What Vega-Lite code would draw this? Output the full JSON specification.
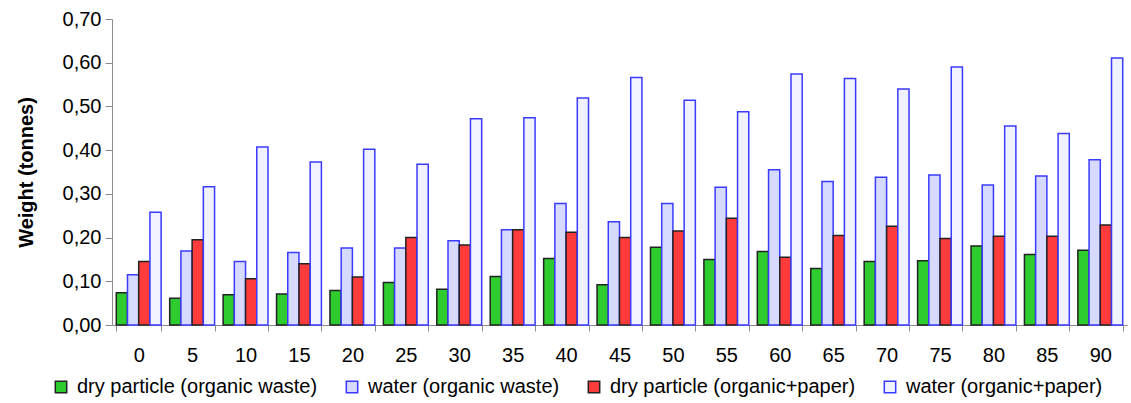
{
  "$schema": "https://vega.github.io/schema/vega-lite/v6.json",
  "autosize": {"type": "none"},
  "width": 1015,
  "height": 306,
  "padding": {"left": 112, "top": 19, "right": 4, "bottom": 78},
  "background": "white",
  "config": {
    "font": "Liberation Sans",
    "view": {"stroke": null},
    "axis": {"grid": false, "domainColor": "#8c8c8c", "tickColor": "#8c8c8c", "labelColor": "#000", "labelFont": "Liberation Sans", "labelFontSize": 20}
  },
  "data": {"values": [
    {"t": 0, "s": "dry particle (organic waste)", "v": 0.074},
    {"t": 0, "s": "water (organic waste)", "v": 0.115},
    {"t": 0, "s": "dry particle (organic+paper)", "v": 0.145},
    {"t": 0, "s": "water (organic+paper)", "v": 0.258},
    {"t": 5, "s": "dry particle (organic waste)", "v": 0.061},
    {"t": 5, "s": "water (organic waste)", "v": 0.169},
    {"t": 5, "s": "dry particle (organic+paper)", "v": 0.195},
    {"t": 5, "s": "water (organic+paper)", "v": 0.316},
    {"t": 10, "s": "dry particle (organic waste)", "v": 0.069},
    {"t": 10, "s": "water (organic waste)", "v": 0.145},
    {"t": 10, "s": "dry particle (organic+paper)", "v": 0.106},
    {"t": 10, "s": "water (organic+paper)", "v": 0.407},
    {"t": 15, "s": "dry particle (organic waste)", "v": 0.071},
    {"t": 15, "s": "water (organic waste)", "v": 0.166},
    {"t": 15, "s": "dry particle (organic+paper)", "v": 0.14},
    {"t": 15, "s": "water (organic+paper)", "v": 0.373},
    {"t": 20, "s": "dry particle (organic waste)", "v": 0.079},
    {"t": 20, "s": "water (organic waste)", "v": 0.176},
    {"t": 20, "s": "dry particle (organic+paper)", "v": 0.11},
    {"t": 20, "s": "water (organic+paper)", "v": 0.402},
    {"t": 25, "s": "dry particle (organic waste)", "v": 0.097},
    {"t": 25, "s": "water (organic waste)", "v": 0.176},
    {"t": 25, "s": "dry particle (organic+paper)", "v": 0.2},
    {"t": 25, "s": "water (organic+paper)", "v": 0.368},
    {"t": 30, "s": "dry particle (organic waste)", "v": 0.082},
    {"t": 30, "s": "water (organic waste)", "v": 0.193},
    {"t": 30, "s": "dry particle (organic+paper)", "v": 0.183},
    {"t": 30, "s": "water (organic+paper)", "v": 0.472},
    {"t": 35, "s": "dry particle (organic waste)", "v": 0.111},
    {"t": 35, "s": "water (organic waste)", "v": 0.218},
    {"t": 35, "s": "dry particle (organic+paper)", "v": 0.218},
    {"t": 35, "s": "water (organic+paper)", "v": 0.474},
    {"t": 40, "s": "dry particle (organic waste)", "v": 0.152},
    {"t": 40, "s": "water (organic waste)", "v": 0.278},
    {"t": 40, "s": "dry particle (organic+paper)", "v": 0.212},
    {"t": 40, "s": "water (organic+paper)", "v": 0.519},
    {"t": 45, "s": "dry particle (organic waste)", "v": 0.092},
    {"t": 45, "s": "water (organic waste)", "v": 0.236},
    {"t": 45, "s": "dry particle (organic+paper)", "v": 0.2},
    {"t": 45, "s": "water (organic+paper)", "v": 0.566},
    {"t": 50, "s": "dry particle (organic waste)", "v": 0.178},
    {"t": 50, "s": "water (organic waste)", "v": 0.278},
    {"t": 50, "s": "dry particle (organic+paper)", "v": 0.215},
    {"t": 50, "s": "water (organic+paper)", "v": 0.514},
    {"t": 55, "s": "dry particle (organic waste)", "v": 0.15},
    {"t": 55, "s": "water (organic waste)", "v": 0.315},
    {"t": 55, "s": "dry particle (organic+paper)", "v": 0.244},
    {"t": 55, "s": "water (organic+paper)", "v": 0.488},
    {"t": 60, "s": "dry particle (organic waste)", "v": 0.168},
    {"t": 60, "s": "water (organic waste)", "v": 0.355},
    {"t": 60, "s": "dry particle (organic+paper)", "v": 0.155},
    {"t": 60, "s": "water (organic+paper)", "v": 0.574},
    {"t": 65, "s": "dry particle (organic waste)", "v": 0.129},
    {"t": 65, "s": "water (organic waste)", "v": 0.328},
    {"t": 65, "s": "dry particle (organic+paper)", "v": 0.205},
    {"t": 65, "s": "water (organic+paper)", "v": 0.564},
    {"t": 70, "s": "dry particle (organic waste)", "v": 0.145},
    {"t": 70, "s": "water (organic waste)", "v": 0.338},
    {"t": 70, "s": "dry particle (organic+paper)", "v": 0.226},
    {"t": 70, "s": "water (organic+paper)", "v": 0.54},
    {"t": 75, "s": "dry particle (organic waste)", "v": 0.147},
    {"t": 75, "s": "water (organic waste)", "v": 0.343},
    {"t": 75, "s": "dry particle (organic+paper)", "v": 0.198},
    {"t": 75, "s": "water (organic+paper)", "v": 0.59},
    {"t": 80, "s": "dry particle (organic waste)", "v": 0.181},
    {"t": 80, "s": "water (organic waste)", "v": 0.32},
    {"t": 80, "s": "dry particle (organic+paper)", "v": 0.203},
    {"t": 80, "s": "water (organic+paper)", "v": 0.455},
    {"t": 85, "s": "dry particle (organic waste)", "v": 0.161},
    {"t": 85, "s": "water (organic waste)", "v": 0.341},
    {"t": 85, "s": "dry particle (organic+paper)", "v": 0.203},
    {"t": 85, "s": "water (organic+paper)", "v": 0.438},
    {"t": 90, "s": "dry particle (organic waste)", "v": 0.171},
    {"t": 90, "s": "water (organic waste)", "v": 0.378},
    {"t": 90, "s": "dry particle (organic+paper)", "v": 0.229},
    {"t": 90, "s": "water (organic+paper)", "v": 0.611}
  ]},
  "mark": {"type": "bar", "strokeWidth": 1.5, "fillOpacity": 1},
  "encoding": {
    "x": {
      "field": "t", "type": "ordinal", "sort": null,
      "scale": {"paddingInner": 0.16, "paddingOuter": 0.08},
      "axis": {"title": null, "labelAngle": 0, "tickBand": "extent", "tickSize": 6, "labelPadding": 14, "domain": true}
    },
    "xOffset": {
      "field": "s", "type": "nominal",
      "sort": ["dry particle (organic waste)", "water (organic waste)", "dry particle (organic+paper)", "water (organic+paper)"]
    },
    "y": {
      "field": "v", "type": "quantitative",
      "scale": {"domain": [0, 0.7], "nice": false},
      "axis": {"title": "Weight (tonnes)", "titleFontSize": 20, "titleFontWeight": "bold", "titleColor": "#000", "titlePadding": 26, "values": [0, 0.1, 0.2, 0.3, 0.4, 0.5, 0.6, 0.7], "labelExpr": "replace(format(datum.value, '.2f'), '.', ',')", "tickSize": 7, "labelPadding": 4}
    },
    "fill": {
      "field": "s", "type": "nominal", "title": null,
      "sort": ["dry particle (organic waste)", "water (organic waste)", "dry particle (organic+paper)", "water (organic+paper)"],
      "scale": {"range": ["#2fcc2f", "#d6daff", "#ff3b3b", "#f0f2ff"]},
      "legend": {
        "orient": "none", "legendX": -61, "legendY": 358, "direction": "horizontal", "columns": 4, "columnPadding": 24,
        "labelFontSize": 20, "labelLimit": 0, "labelColor": "#000", "symbolType": "square", "symbolSize": 130, "symbolStrokeWidth": 1.5, "labelOffset": 6,
        "encode": {"symbols": {"update": {"stroke": {"signal": "indexof(datum.label, 'water') === 0 ? '#3b3bff' : '#222222'"}, "strokeWidth": {"value": 1.5}}}}
      }
    },
    "stroke": {
      "field": "s", "type": "nominal", "legend": null,
      "sort": ["dry particle (organic waste)", "water (organic waste)", "dry particle (organic+paper)", "water (organic+paper)"],
      "scale": {"range": ["#222222", "#3b3bff", "#222222", "#3b3bff"]}
    }
  }
}
